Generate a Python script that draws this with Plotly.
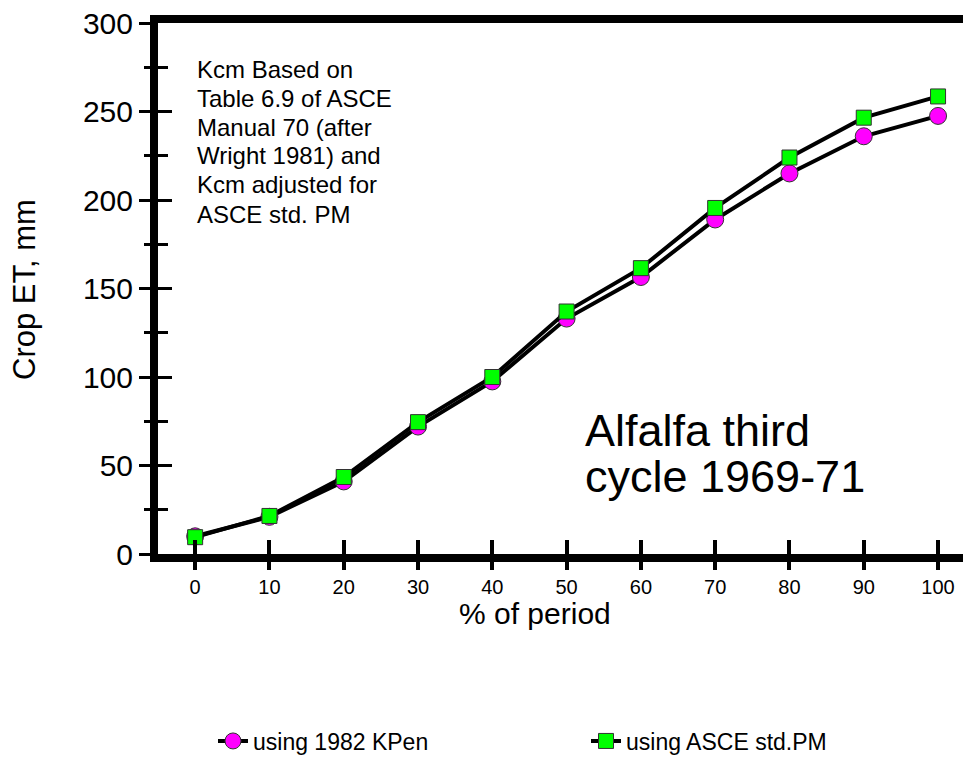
import plotly.graph_objects as go

pct = [0, 10, 20, 30, 40, 50, 60, 70, 80, 90, 100]
kpen_1982 = [10, 21, 41, 72, 97.5, 133, 156.5, 189, 215, 236, 247.5]
asce_std_pm = [9.5, 21.5, 43.5, 74.5, 100, 137, 161.5, 195.5, 224, 246.5, 258.5]

x_ticks = [0, 10, 20, 30, 40, 50, 60, 70, 80, 90, 100]
y_ticks = [0, 50, 100, 150, 200, 250, 300]

note_lines = ["Kcm Based on", "Table 6.9 of ASCE", "Manual 70 (after",
              "Wright 1981) and", "Kcm adjusted for", "ASCE std. PM"]
big_lines = ["Alfalfa third", "cycle 1969-71"]

FONT = "Liberation Sans, Arial, sans-serif"
XR = [-5, 104.3]
YR = [0, 300]

OFF = 8  # page body margin in the browser
W, H = 971 - OFF, 773 - OFF
L, T = 158 - OFF, 23 - OFF
R = W - (970 - OFF)
B = H - (554 - OFF)
PW, PH = W - L - R, H - T - B


def px(xs):
    return (xs - OFF - L) / PW


def py(ys):
    return (H - B - (ys - OFF)) / PH


fig = go.Figure()
fig.add_trace(go.Scatter(
    x=pct, y=kpen_1982, mode="lines+markers", name="using 1982 KPen",
    line=dict(color="black", width=4),
    marker=dict(symbol="circle", size=17, color="#FF00FF", line=dict(color="#333333", width=1)),
))
fig.add_trace(go.Scatter(
    x=pct, y=asce_std_pm, mode="lines+markers", name="using ASCE std.PM",
    line=dict(color="black", width=4),
    marker=dict(symbol="square", size=15, color="#00FF00", line=dict(color="#333333", width=1)),
))
# helper traces activating overlay axes (crossing ticks, thin right border)
fig.add_trace(go.Scatter(x=[None], y=[None], xaxis="x2", yaxis="y3", showlegend=False, hoverinfo="skip"))
fig.add_trace(go.Scatter(x=[None], y=[None], yaxis="y2", showlegend=False, hoverinfo="skip"))

fig.update_layout(
    width=W, height=H,
    margin=dict(l=L, r=R, t=T, b=B, autoexpand=False),
    paper_bgcolor="white", plot_bgcolor="white",
    font=dict(family=FONT, color="black"),
    showlegend=True,
    legend=dict(orientation="h", x=px(213), xanchor="left", y=py(741), yanchor="middle",
                font=dict(size=23, family=FONT), entrywidth=328, entrywidthmode="pixels",
                bgcolor="rgba(0,0,0,0)"),
    xaxis=dict(range=XR, tickvals=x_ticks, ticktext=[str(v) for v in x_ticks], automargin=False,
               showgrid=False, zeroline=False, showline=True, linecolor="black", linewidth=8,
               mirror=True, ticks="outside", ticklen=8, tickwidth=4, tickcolor="black",
               tickfont=dict(size=20), ticklabeloverflow="allow"),
    xaxis2=dict(range=XR, overlaying="x", anchor="y3", side="bottom", tickvals=x_ticks,
                showticklabels=False, showgrid=False, zeroline=False, showline=False, automargin=False,
                ticks="inside", ticklen=14, tickwidth=4, tickcolor="black"),
    yaxis=dict(range=YR, tickvals=y_ticks, showgrid=False, zeroline=False, showline=True, automargin=False,
               linecolor="black", linewidth=8, mirror=False, ticks="outside", ticklen=11,
               tickwidth=3, tickcolor="black", tickfont=dict(size=30), ticklabeloverflow="allow",
               minor=dict(dtick=25, tick0=0, ticks="outside", ticklen=6, tickwidth=3, tickcolor="black")),
    yaxis2=dict(range=YR, overlaying="y", anchor="x", side="right", showline=True, automargin=False,
                linecolor="#aaaaaa", linewidth=1, ticks="", showticklabels=False,
                showgrid=False, zeroline=False),
    yaxis3=dict(range=YR, overlaying="y", anchor="x2", side="left", tickvals=y_ticks, automargin=False,
                showticklabels=False, showgrid=False, zeroline=False, showline=False,
                ticks="inside", ticklen=14, tickwidth=3, tickcolor="black",
                minor=dict(dtick=25, tick0=0, ticks="inside", ticklen=10, tickwidth=3, tickcolor="black")),
)

# axis titles as text placed like the reference
fig.add_annotation(xref="paper", yref="paper", x=px(535), y=py(613), xanchor="center", yanchor="middle",
                   showarrow=False, text="% of period", font=dict(size=30, family=FONT, color="black"))
fig.add_annotation(xref="paper", yref="paper", x=px(25), y=py(290), xanchor="center", yanchor="middle",
                   showarrow=False, textangle=-90, text="Crop ET, mm",
                   font=dict(size=31, family=FONT, color="black"))

for i, line in enumerate(note_lines):
    fig.add_annotation(xref="paper", yref="paper", x=px(195), y=py(69 + 29 * i),
                       xanchor="left", yanchor="middle", showarrow=False, text=line,
                       font=dict(size=24, family=FONT, color="black"))

for i, line in enumerate(big_lines):
    fig.add_annotation(xref="paper", yref="paper", x=px(583), y=py(430 + 46 * i),
                       xanchor="left", yanchor="middle", showarrow=False, text=line,
                       font=dict(size=45, family=FONT, color="black"))

fig.write_html("out.html")
